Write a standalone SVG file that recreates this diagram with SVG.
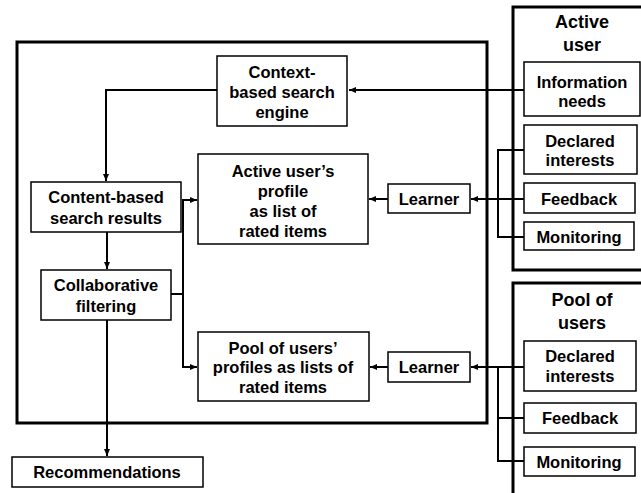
<svg xmlns="http://www.w3.org/2000/svg" width="641" height="493" viewBox="0 0 641 493">
<style>
.box{fill:#fff;stroke:#000;stroke-width:1.5}
.frame{fill:none;stroke:#000;stroke-width:3}
.t{font-family:"Liberation Sans",Arial,sans-serif;font-weight:bold;font-size:16.5px;fill:#000;text-anchor:middle}
.h{font-size:18px}
.c{fill:none;stroke:#000;stroke-width:2}
.a{marker-end:url(#arr)}
</style>
<defs>
<marker id="arr" markerUnits="userSpaceOnUse" markerWidth="8" markerHeight="8" refX="7" refY="3" orient="auto">
<path d="M0,0 L7,3 L0,6 z" fill="#000"/>
</marker>
</defs>
<rect width="641" height="493" fill="#fff"/>
<g id="system"><rect class="frame" x="17" y="42" width="470" height="381"/></g>
<g id="active-user"><rect class="frame" x="513" y="7" width="140" height="263"/>
<text class="t h" x="582" y="28">Active</text><text class="t h" x="582" y="51">user</text></g>
<g id="pool-of-users"><rect class="frame" x="513" y="283" width="140" height="230"/>
<text class="t h" x="582" y="306">Pool of</text><text class="t h" x="582" y="329">users</text></g>

<g id="connectors">
<path class="c a" d="M524,90 L349,90"/>
<path class="c a" d="M217,90 L106,90 L106,181"/>
<path class="c a" d="M107,232 L107,269"/>
<path class="c a" d="M107,320 L107,456"/>
<path class="c" d="M171,294 L183,294 M183,200 L183,367"/>
<path class="c a" d="M182,200 L197,200"/>
<path class="c a" d="M182,367 L197,367"/>
<path class="c a" d="M388,199 L369,199"/>
<path class="c a" d="M524,199 L471,199"/>
<path class="c" d="M524,150 L498,150 L498,237 L524,237"/>
<path class="c a" d="M388,367 L370,367"/>
<path class="c a" d="M524,367 L471,367"/>
<path class="c" d="M498,367 L498,461 L524,461 M498,418 L524,418"/>
</g>

<g id="context-engine"><rect class="box" x="217" y="56" width="130" height="70"/>
<text class="t" x="282" y="78">Context-</text><text class="t" x="282" y="98">based search</text><text class="t" x="282" y="118">engine</text></g>
<g id="content-results"><rect class="box" x="31" y="182" width="150" height="50"/>
<text class="t" x="106" y="203">Content-based</text><text class="t" x="106" y="224">search results</text></g>
<g id="active-profile"><rect class="box" x="198" y="154" width="170" height="90"/>
<text class="t" x="283" y="177">Active user’s</text><text class="t" x="283" y="197">profile</text><text class="t" x="283" y="217">as list of</text><text class="t" x="283" y="237">rated items</text></g>
<g id="collab"><rect class="box" x="41" y="270" width="130" height="50"/>
<text class="t" x="106" y="291">Collaborative</text><text class="t" x="106" y="312">filtering</text></g>
<g id="pool-profiles"><rect class="box" x="198" y="332" width="171" height="69"/>
<text class="t" x="283" y="354">Pool of users’</text><text class="t" x="283" y="373">profiles as lists of</text><text class="t" x="283" y="393">rated items</text></g>
<g id="recommendations"><rect class="box" x="12" y="457" width="191" height="30"/>
<text class="t" x="107" y="478">Recommendations</text></g>
<g id="learner1"><rect class="box" x="388" y="184" width="82" height="29"/>
<text class="t" x="429" y="205">Learner</text></g>
<g id="learner2"><rect class="box" x="388" y="352" width="82" height="30"/>
<text class="t" x="429" y="373">Learner</text></g>
<g id="info-needs"><rect class="box" x="524" y="62" width="116" height="54"/>
<text class="t" x="582" y="88">Information</text><text class="t" x="582" y="107">needs</text></g>
<g id="declared1"><rect class="box" x="524" y="125" width="113" height="49"/>
<text class="t" x="580" y="147">Declared</text><text class="t" x="580" y="166">interests</text></g>
<g id="feedback1"><rect class="box" x="524" y="183" width="111" height="30"/>
<text class="t" x="579" y="205">Feedback</text></g>
<g id="monitoring1"><rect class="box" x="524" y="222" width="110" height="28"/>
<text class="t" x="579" y="243">Monitoring</text></g>
<g id="declared2"><rect class="box" x="524" y="341" width="112" height="50"/>
<text class="t" x="580" y="362">Declared</text><text class="t" x="580" y="382">interests</text></g>
<g id="feedback2"><rect class="box" x="524" y="403" width="112" height="30"/>
<text class="t" x="580" y="424">Feedback</text></g>
<g id="monitoring2"><rect class="box" x="524" y="447" width="111" height="29"/>
<text class="t" x="579" y="468">Monitoring</text></g>
</svg>
